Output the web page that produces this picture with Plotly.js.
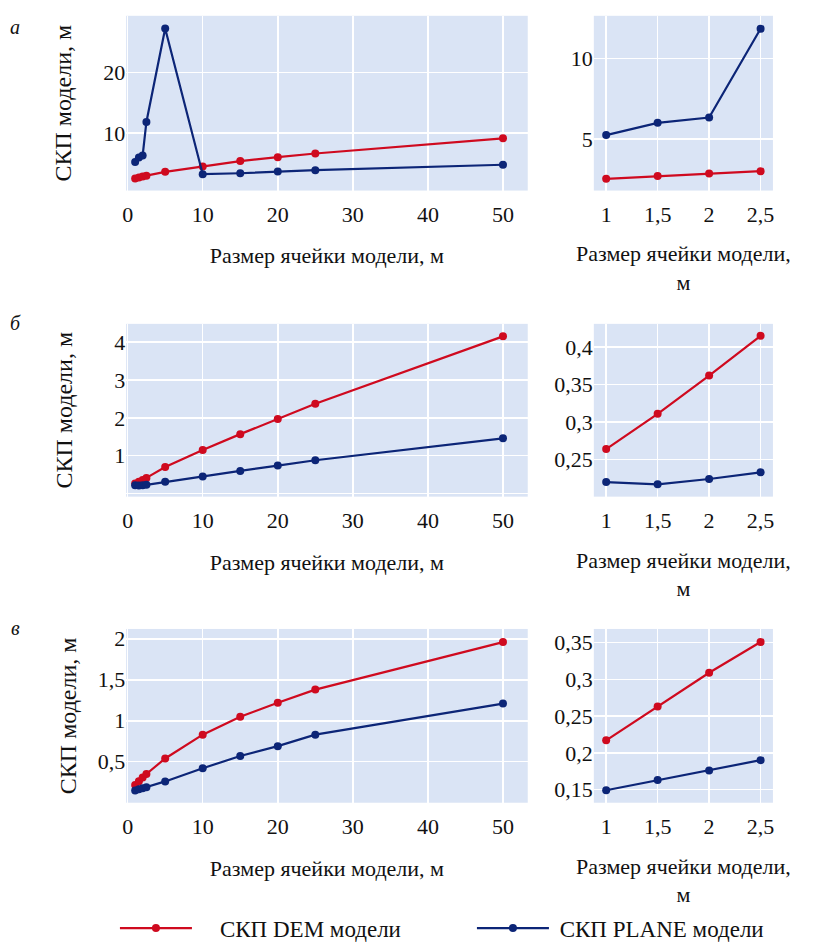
<!DOCTYPE html>
<html>
<head>
<meta charset="utf-8">
<script src="https://cdn.plot.ly/plotly-3.0.1.min.js"></script>
<style>
  html, body { margin: 0; padding: 0; background: #ffffff; }
  #chart { width: 829px; height: 950px; }
</style>
</head>
<body>
<div id="chart"></div>
<script>
// Cell size of the model, m
const cellSize = [1, 1.5, 2, 2.5, 5, 10, 15, 20, 25, 50];
// Number of the smallest cell sizes shown in the detail panels
const detailCount = 4;

// RMSE of the models, m — panel а
const demA   = [2.53, 2.70, 2.86, 3.00, 3.63, 4.5, 5.4, 6.05, 6.65, 9.15];
const planeA = [5.24, 6.00, 6.33, 11.84, 27.2, 3.24, 3.4, 3.68, 3.9, 4.8];
// panel б
const demB   = [0.264, 0.311, 0.362, 0.415, 0.70, 1.15, 1.57, 1.97, 2.37, 4.15];
const planeB = [0.220, 0.217, 0.224, 0.233, 0.31, 0.45, 0.60, 0.74, 0.88, 1.46];
// panel в
const demC   = [0.217, 0.263, 0.309, 0.351, 0.54, 0.83, 1.05, 1.22, 1.38, 1.96];
const planeC = [0.149, 0.163, 0.176, 0.190, 0.26, 0.42, 0.57, 0.69, 0.83, 1.21];

const panelLetters = ['а', 'б', 'в'];
const seriesNames = ['\u00a0\u00a0\u00a0\u00a0СКП DEM модели', '\u00a0СКП PLANE модели'];
const xTitle = 'Размер ячейки модели, м';
const xTitleWrapped = 'Размер ячейки модели,<br>м';
const yTitle = 'СКП модели, м';

const leftTicksX = [0, 10, 20, 30, 40, 50];
const rightTicksX = [1, 1.5, 2, 2.5];
const leftTicksY = [[10, 20], [1, 2, 3, 4], [0.5, 1, 1.5, 2]];
const rightTicksY = [[5, 10], [0.25, 0.3, 0.35, 0.4], [0.15, 0.2, 0.25, 0.3, 0.35]];

const demColor = '#cf0a1f';
const planeColor = '#0c2577';
const font = "'Liberation Serif', 'Times New Roman', serif";
const ink = '#111111';

const W = 829, H = 950;
const px = v => v / W;
const py = v => 1 - v / H;

const rows = [
  { dem: demA, plane: planeA, top: 16,  bottom: 193, letterY: 27,  yL: [0.55, 29.3],  yR: [1.8, 12.64],   standoff: 24 },
  { dem: demB, plane: planeB, top: 328, bottom: 503, letterY: 327, yL: [-0.08, 4.48], yR: [0.2005, 0.431], standoff: 34 },
  { dem: demC, plane: planeC, top: 637, bottom: 813, letterY: 636, yL: [0.0, 2.12],   yR: [0.132, 0.3687], standoff: 14 }
];

const traces = [];
const layout = {
  width: W, height: H,
  margin: { l: 0, r: 0, t: 0, b: 0 },
  paper_bgcolor: '#ffffff',
  plot_bgcolor: '#dae4f5',
  separators: ', ',
  font: { family: font, size: 22, color: ink },
  showlegend: true,
  legend: {
    orientation: 'h',
    x: px(120), xanchor: 'left',
    y: py(940), yanchor: 'middle',
    entrywidth: 270, entrywidthmode: 'pixels',
    itemwidth: 72,
    font: { family: font, size: 23, color: ink }
  },
  annotations: []
};

function axisCommon() {
  return {
    showgrid: true, gridcolor: '#ffffff', gridwidth: 1.5,
    zeroline: false, showline: false, ticks: '',
    tickfont: { family: font, size: 22, color: ink },
    fixedrange: true
  };
}

rows.forEach((r, i) => {
  const n = i * 2 + 1;       // left panel axis index
  const m = n + 1;           // right panel axis index
  const xl = 'x' + (n === 1 ? '' : n), yl = 'y' + (n === 1 ? '' : n);
  const xr = 'x' + m, yr = 'y' + m;

  const series = [[r.dem, demColor, seriesNames[0]], [r.plane, planeColor, seriesNames[1]]];
  series.forEach(([vals, color, name]) => {
    traces.push({
      type: 'scatter', mode: 'lines+markers',
      x: cellSize, y: vals, xaxis: xl, yaxis: yl,
      name: name, legendgroup: name, showlegend: i === 0,
      line: { color: color, width: 2.2 },
      marker: { color: color, size: 8 }
    });
    traces.push({
      type: 'scatter', mode: 'lines+markers',
      x: cellSize.slice(0, detailCount), y: vals.slice(0, detailCount),
      xaxis: xr, yaxis: yr,
      name: name, legendgroup: name, showlegend: false,
      line: { color: color, width: 2.2 },
      marker: { color: color, size: 8 }
    });
  });

  const yDom = [py(r.bottom), py(r.top)];

  layout['xaxis' + (n === 1 ? '' : n)] = Object.assign(axisCommon(), {
    domain: [px(131.7), px(551)], anchor: yl,
    range: [-0.2, 53.3], tickvals: leftTicksX, ticklabelstandoff: 8,
    title: { text: xTitle, font: { family: font, size: 22 }, standoff: 22 }
  });
  layout['yaxis' + (n === 1 ? '' : n)] = Object.assign(axisCommon(), {
    domain: yDom, anchor: xl,
    range: r.yL, tickvals: leftTicksY[i],
    zeroline: i === 1, zerolinecolor: '#ffffff', zerolinewidth: 1.5,
    title: { text: yTitle, font: { family: font, size: 24 }, standoff: r.standoff }
  });
  layout['xaxis' + m] = Object.assign(axisCommon(), {
    domain: [px(620), px(807)], anchor: yr,
    range: [0.88, 2.62], tickvals: rightTicksX, ticklabelstandoff: 8,
    title: { text: xTitleWrapped, font: { family: font, size: 22 }, standoff: 20 }
  });
  layout['yaxis' + m] = Object.assign(axisCommon(), {
    domain: yDom, anchor: xr,
    range: r.yR, tickvals: rightTicksY[i]
  });

  layout.annotations.push({
    text: panelLetters[i], xref: 'paper', yref: 'paper',
    x: px(16), y: py(r.letterY), xanchor: 'center', yanchor: 'middle',
    showarrow: false, font: { family: font, size: 20, style: 'italic', color: ink }
  });
});

Plotly.newPlot('chart', traces, layout, { displayModeBar: false, staticPlot: true });
</script>
</body>
</html>
